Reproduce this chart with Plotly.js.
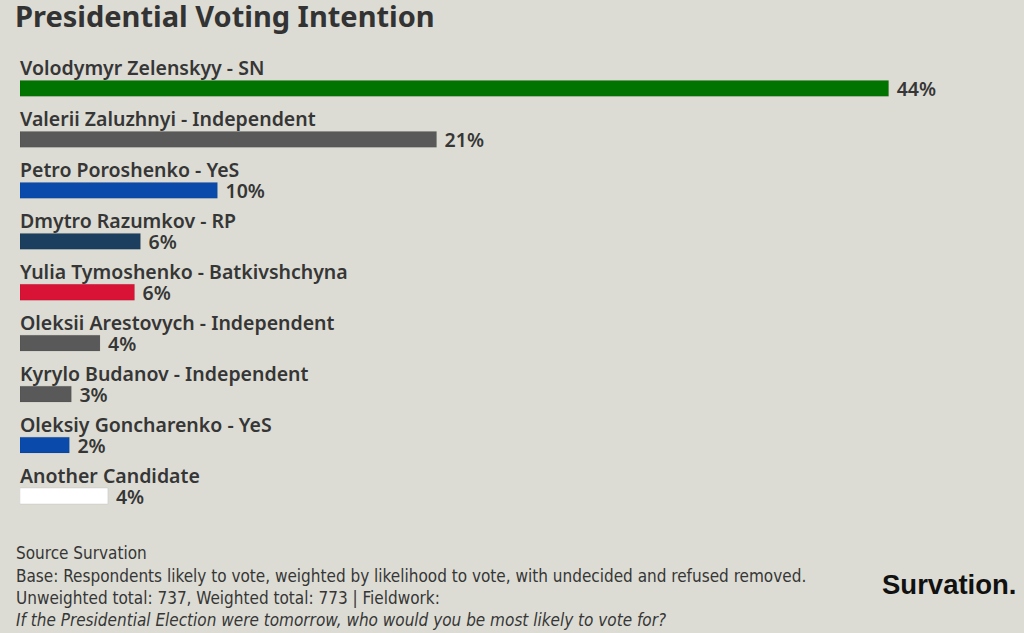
<!DOCTYPE html>
<html>
<head>
<meta charset="utf-8">
<script src="https://cdn.plot.ly/plotly-3.0.1.min.js"></script>
<style>
  html, body { margin: 0; padding: 0; background: #dcdcd4; }
  #chart { width: 1024px; height: 633px; }
</style>
</head>
<body>
<div id="chart"></div>
<script>
// ---- data ----
const candidates = [
  "Volodymyr Zelenskyy - SN",
  "Valerii Zaluzhnyi - Independent",
  "Petro Poroshenko - YeS",
  "Dmytro Razumkov - RP",
  "Yulia Tymoshenko - Batkivshchyna",
  "Oleksii Arestovych - Independent",
  "Kyrylo Budanov - Independent",
  "Oleksiy Goncharenko - YeS",
  "Another Candidate"
];
const shares = [44.0, 21.1, 10.0, 6.1, 5.8, 4.05, 2.6, 2.5, 4.45];
const shareLabels = ["44%", "21%", "10%", "6%", "6%", "4%", "3%", "2%", "4%"];
const barColors = ["#007400", "#595959", "#0a4aab", "#1c3f5f", "#d91335", "#595959", "#595959", "#0a4aab", "#ffffff"];

const footerLines = [
  "Source Survation",
  "Base: Respondents likely to vote, weighted by likelihood to vote, with undecided and refused removed.",
  "Unweighted total: 737, Weighted total: 773 | Fieldwork:",
  "<i>If the Presidential Election were tomorrow, who would you be most likely to vote for?</i>"
];

// ---- layout helpers ----
const W = 1024, H = 633;
const M = { l: 20, r: 17, t: 63, b: 101 };
const plotH = H - M.t - M.b;
const py = p => (H - M.b - p) / plotH;
const px = p => (p - M.l) / (W - M.l - M.r);

const textColor = "#363636";
const labelFont = { family: "Noto Sans, Open Sans, sans-serif", size: 19.5, color: textColor, weight: 600 };

const trace = {
  type: "bar",
  orientation: "h",
  y: candidates,
  x: shares,
  text: shareLabels,
  textposition: "outside",
  constraintext: "none",
  texttemplate: " %{text}",
  textfont: labelFont,
  cliponaxis: false,
  marker: { color: barColors, line: { color: "rgba(0,0,0,0.08)", width: 1 } },
  width: 0.31,
  hoverinfo: "skip"
};

const annotations = candidates.map(c => ({
  xref: "x", yref: "y", x: 0, y: c,
  xanchor: "left", yanchor: "middle", yshift: 20.5, xshift: -2,
  text: c, showarrow: false, font: labelFont
}));

const footerY = [553, 576, 598, 620];
footerLines.forEach((t, i) => {
  annotations.push({
    xref: "paper", yref: "paper", x: px(14), y: py(footerY[i]),
    xanchor: "left", yanchor: "middle",
    text: t, showarrow: false,
    font: { family: "Liberation Sans Narrow, DejaVu Sans Condensed, sans-serif", size: 17, color: textColor }
  });
});

annotations.push({
  xref: "paper", yref: "paper", x: px(1018), y: py(584),
  xanchor: "right", yanchor: "middle",
  text: "Survation.", showarrow: false,
  font: { family: "Liberation Sans, Arial, sans-serif", size: 27.5, color: "#111111", weight: 700 }
});

const layout = {
  width: W, height: H,
  margin: M,
  paper_bgcolor: "#dcdcd4",
  plot_bgcolor: "#dcdcd4",
  showlegend: false,
  title: {
    text: "Presidential Voting Intention",
    x: 15 / W, xanchor: "left", xref: "container",
    y: 1 - 17 / H, yanchor: "middle", yref: "container",
    font: { family: "Noto Sans, Open Sans, sans-serif", size: 29, color: "#333333", weight: 700 }
  },
  xaxis: { range: [0, 50], visible: false, fixedrange: true },
  yaxis: { autorange: "reversed", visible: false, fixedrange: true },
  annotations: annotations,
  bargap: 0.69
};

Plotly.newPlot("chart", [trace], layout, { displayModeBar: false, staticPlot: true });
</script>
</body>
</html>
